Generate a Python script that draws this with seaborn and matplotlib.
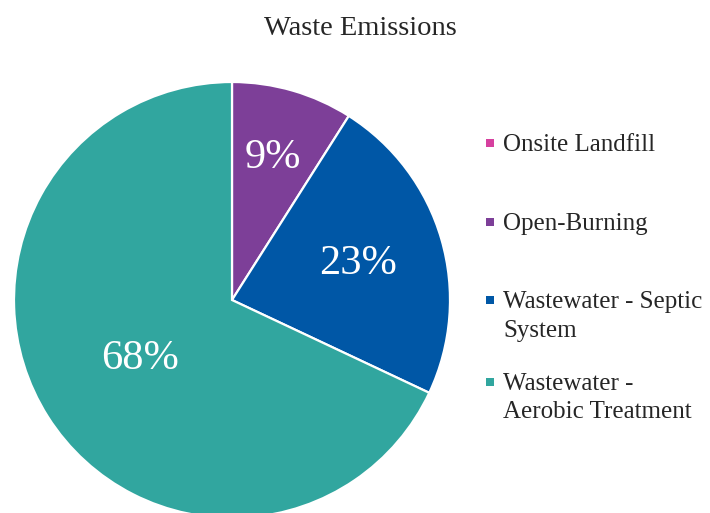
import matplotlib
matplotlib.use("Agg")
import matplotlib.pyplot as plt
import seaborn as sns
import numpy as np

sns.set_theme(style="white")
plt.rcParams['font.family'] = ['Liberation Serif', 'DejaVu Serif']

categories = ["Onsite Landfill", "Open-Burning", "Wastewater - Septic\nSystem",
              "Wastewater -\nAerobic Treatment"]
values = [0.0, 9.0, 23.0, 68.0]
colors = ["#D6409F", "#7D3F98", "#0057A6", "#31A69F"]

# layout (pixels / relative distances)
pct_dist = [0.6, 0.68, 0.6, 0.5]
legend_baselines = [151, 230, 308, 390]
line_px = 28.5

W, H = 710, 513
fig = plt.figure(figsize=(W / 100, H / 100), dpi=100)
cx, cy, r = 232, 300, 218
ax = fig.add_axes([(cx - r) / W, (H - cy - r) / H, 2 * r / W, 2 * r / H])

wedges, _ = ax.pie(values, colors=colors, startangle=90, counterclock=False,
                   radius=1, wedgeprops=dict(edgecolor="white", linewidth=1.6))
total = sum(values)
for w, v, d in zip(wedges, values, pct_dist):
    if v <= 0:
        continue
    ang = np.deg2rad((w.theta1 + w.theta2) / 2)
    ax.text(d * np.cos(ang), d * np.sin(ang), f"{v / total * 100:.0f}%",
            color="white", fontsize=30.5, ha="center", va="center")
ax.set_xlim(-1, 1)
ax.set_ylim(-1, 1)
ax.set_aspect("auto")
ax.axis("off")

# overlay in pixel coordinates for title and legend
ov = fig.add_axes([0, 0, 1, 1], zorder=5)
ov.set_xlim(0, W)
ov.set_ylim(H, 0)
ov.axis("off")
ov.patch.set_alpha(0)

ov.text(360, 35, "Waste Emissions", fontsize=20.5, ha="center", va="baseline")

for lab, c, yb in zip(categories, colors, legend_baselines):
    n = lab.count("\n")
    ov.scatter([490], [yb - 8], marker="s", s=26, color=c, linewidths=0)
    ov.text(503, yb + n * line_px, lab, fontsize=18, ha="left", va="baseline",
            linespacing=1.37)

fig.savefig("out.png", dpi=100, facecolor="white")
